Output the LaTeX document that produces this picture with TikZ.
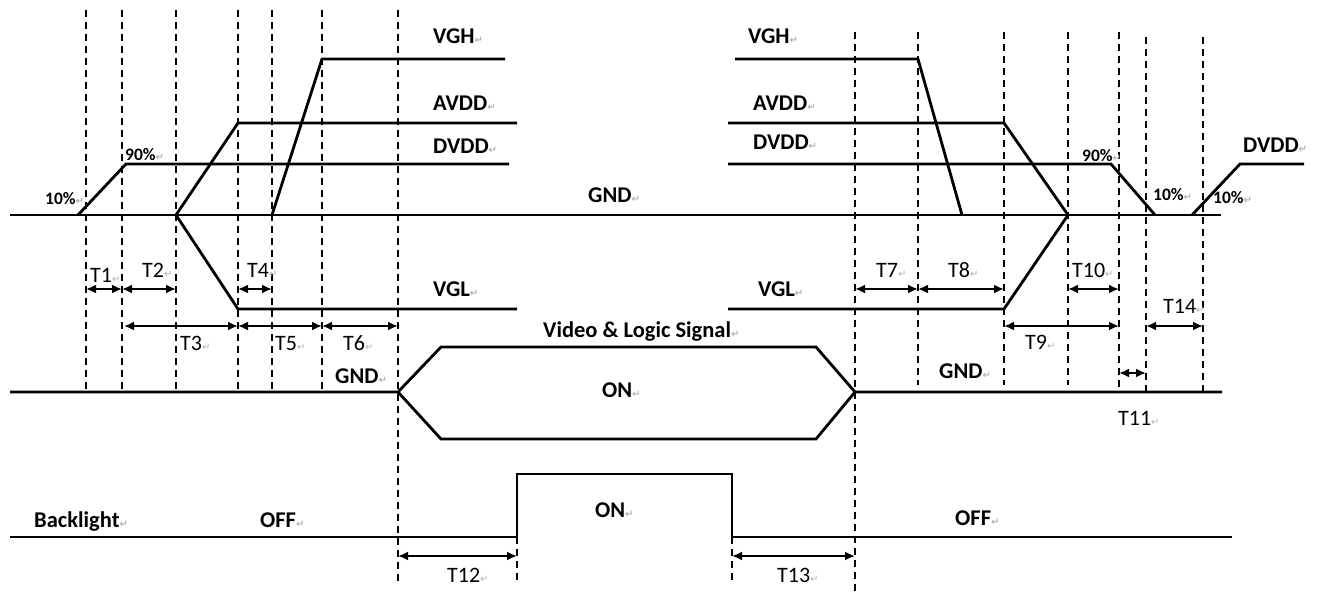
\documentclass[tikz,border=0pt]{standalone}
\usepackage{fontspec}
\setmainfont{Carlito}
\newfontfamily\symf{DejaVu Sans}
\usetikzlibrary{arrows.meta}
\newcommand\retmark{{\symf\fontsize{10}{10}\selectfont\color{gray!60}↵}}
\tikzset{
  sig/.style={line width=2.8pt, line join=miter},
  guide/.style={line width=2pt, dash pattern=on 7pt off 5pt},
  dim/.style={line width=2pt, {Latex[length=10pt,width=9pt]}-{Latex[length=10pt,width=9pt]}},
  lbl/.style={anchor=base west, inner sep=0pt, font=\fontsize{22.5}{22.5}\selectfont\bfseries},
  tl/.style={anchor=base west, inner sep=0pt, font=\fontsize{22}{22}\selectfont},
  pct/.style={anchor=base west, inner sep=0pt, font=\fontsize{17.5}{17.5}\selectfont\bfseries},
}
\begin{document}
\begin{tikzpicture}[x=1pt,y=-1pt]
\useasboundingbox (0,0) rectangle (1324,595);
% guide lines
\foreach \gx in {86,122,176,238,272,322} \draw[guide] (\gx,10) -- (\gx,392);
\draw[guide] (398,10) -- (398,583);
\draw[guide] (517,537) -- (517,583);
\draw[guide] (732,537) -- (732,583);
\draw[guide] (855,32) -- (855,595);
\foreach \gx in {918,1004,1068} \draw[guide] (\gx,32) -- (\gx,385);
\draw[guide] (1119,32) -- (1119,392);
\draw[guide] (1146,37) -- (1146,392);
\draw[guide] (1203,37) -- (1203,392);
% power signals
\draw[sig] (10,215) -- (1221,215);
\draw[sig] (78,215) -- (126,164) -- (509,164);
\draw[sig] (176,215) -- (238,123) -- (517,123);
\draw[sig] (176,215) -- (238,309) -- (517,309);
\draw[sig] (272,215) -- (322,59) -- (505,59);
\draw[sig] (735,59) -- (918,59) -- (962,215);
\draw[sig] (728,123) -- (1004,123) -- (1068,215);
\draw[sig] (728,309) -- (1004,309) -- (1068,215);
\draw[sig] (728,164) -- (1111,164) -- (1155,215);
\draw[sig] (1192,215) -- (1240,164) -- (1304,164);
% video & logic
\draw[sig] (10,392) -- (398,392) -- (441,347) -- (816,347) -- (855,392) -- (1222,392);
\draw[sig] (398,392) -- (441,439) -- (816,439) -- (855,392);
% backlight
\draw[sig] (10,537) -- (517,537) -- (517,474) -- (732,474) -- (732,537) -- (1232,537);
% timing arrows
\draw[dim] (86,289) -- (122,289);
\draw[dim] (122,289) -- (176,289);
\draw[dim] (238,289) -- (272,289);
\draw[dim] (124,326) -- (238,326);
\draw[dim] (238,326) -- (322,326);
\draw[dim] (322,326) -- (398,326);
\draw[dim] (855,289) -- (918,289);
\draw[dim] (918,289) -- (1004,289);
\draw[dim] (1068,289) -- (1119,289);
\draw[dim] (1004,326) -- (1119,326);
\draw[dim] (1146,326) -- (1203,326);
\draw[dim] (1119,373) -- (1146,373);
\draw[dim] (398,556) -- (517,556);
\draw[dim] (732,556) -- (855,556);
% labels
\node[lbl] (vghL) at (433,43) {VGH\retmark};
\node[lbl] (avddL) at (433,110) {AVDD\retmark};
\node[lbl] (dvddL) at (433,153) {DVDD\retmark};
\node[lbl] (gndT) at (588,202) {GND\retmark};
\node[lbl] (vghR) at (748,43) {VGH\retmark};
\node[lbl] (avddR) at (753,110) {AVDD\retmark};
\node[lbl] (dvddR) at (753,149) {DVDD\retmark};
\node[lbl] (dvddF) at (1243,152) {DVDD\retmark};
\node[pct] (p10a) at (45,204) {10\%\retmark};
\node[pct] (p90a) at (125,160) {90\%\retmark};
\node[pct] (p90b) at (1082,161) {90\%\retmark};
\node[pct] (p10b) at (1153,200) {10\%\retmark};
\node[pct] (p10c) at (1213,203) {10\%\retmark};
\node[lbl] (vglL) at (433,296) {VGL\retmark};
\node[lbl] (vglR) at (758,296) {VGL\retmark};
\node[lbl] (vls) at (543,337) {Video \& Logic Signal\retmark};
\node[lbl] (onV) at (602,397) {ON\retmark};
\node[lbl] (gndVL) at (335,383) {GND\retmark};
\node[lbl] (gndVR) at (939,378) {GND\retmark};
\node[lbl] (bl) at (34,527) {Backlight\retmark};
\node[lbl] (offL) at (260,527) {OFF\retmark};
\node[lbl] (onB) at (595,517) {ON\retmark};
\node[lbl] (offR) at (955,525) {OFF\retmark};
\node[tl] (t1) at (90,282) {T1\retmark};
\node[tl] (t2) at (142,277) {T2\retmark};
\node[tl] (t4) at (247,277) {T4\retmark};
\node[tl] (t3) at (180,350) {T3\retmark};
\node[tl] (t5) at (275,350) {T5\retmark};
\node[tl] (t6) at (343,350) {T6\retmark};
\node[tl] (t7) at (876,277) {T7\retmark};
\node[tl] (t8) at (948,277) {T8\retmark};
\node[tl] (t10) at (1072,277) {T10\retmark};
\node[tl] (t14) at (1163,313) {T14\retmark};
\node[tl] (t9) at (1025,349) {T9\retmark};
\node[tl] (t11) at (1118,425) {T11\retmark};
\node[tl] (t12) at (447,582) {T12\retmark};
\node[tl] (t13) at (777,582) {T13\retmark};
\end{tikzpicture}
\end{document}
